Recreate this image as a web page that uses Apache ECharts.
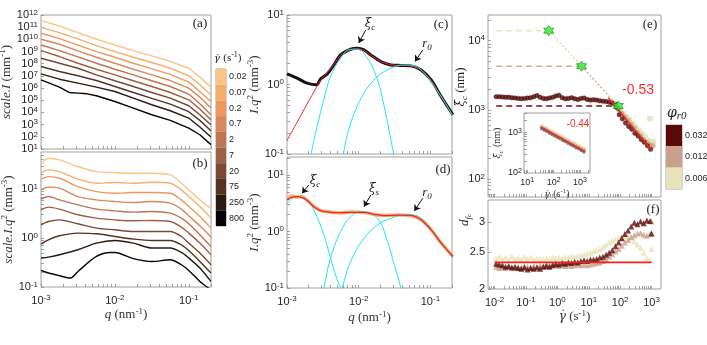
<!DOCTYPE html>
<html>
<head>
<meta charset="utf-8">
<script src="https://cdn.jsdelivr.net/npm/echarts@6/dist/echarts.min.js"></script>
<style>
  html, body { margin: 0; background: #fff; }
  #chart { width: 707px; height: 345px; }
</style>
</head>
<body>
<div id="chart"></div>
<script>
// all positions on log axes are stored as log10 values

// ---- shear-rate colour scale ----
const rateLabels = ['0.02', '0.07', '0.2', '0.7', '2', '7', '20', '75', '250', '800'];
const rateColors = ['#FBC585', '#F7AE6C', '#EF985E', '#D9875D', '#BD7553', '#9D6045', '#7A4832', '#553322', '#2B1A10', '#050505'];

// ---- (a) scale.I vs q ----
const qA = [-3, -2.75, -2.5, -2.25, -2, -1.75, -1.5, -1.25, -1, -0.85, -0.7];
const aCurves = [
  [11.54, 11.10, 10.55, 10.01, 9.54, 9.08, 8.64, 8.18, 7.63, 6.90, 6.08],
  [10.99, 10.55, 10.04, 9.49, 9.00, 8.53, 8.10, 7.63, 7.01, 6.27, 5.45],
  [10.50, 10.06, 9.52, 9.00, 8.53, 8.04, 7.58, 7.12, 6.49, 5.72, 4.90],
  [10.01, 9.60, 9.05, 8.53, 8.04, 7.55, 7.09, 6.62, 6.00, 5.26, 4.36],
  [9.54, 9.08, 8.56, 8.04, 7.55, 7.09, 6.60, 6.13, 5.51, 4.71, 3.81],
  [9.08, 8.59, 8.04, 7.55, 7.09, 6.60, 6.13, 5.64, 5.04, 4.28, 3.40],
  [8.45, 8.04, 7.63, 7.09, 6.60, 6.13, 5.64, 5.18, 4.55, 3.81, 2.99],
  [7.77, 7.36, 7.01, 6.62, 6.13, 5.64, 5.15, 4.69, 4.06, 3.35, 2.50],
  [7.17, 6.73, 6.41, 6.08, 5.72, 5.18, 4.63, 4.14, 3.54, 2.80, 1.98]
];
const qABlack = [-3, -2.75, -2.62, -2.5, -2.375, -2.25, -2, -1.75, -1.5, -1.25, -1, -0.85, -0.7];
const aBlack = [6.68, 6.08, 5.64, 5.59, 5.53, 5.37, 4.90, 4.36, 3.81, 3.35, 2.72, 2.17, 1.36];

// ---- (b) scale.I.q^2 vs q ----
const qB = [-3, -2.9, -2.75, -2.5, -2.25, -2, -1.75, -1.5, -1.25, -1.1, -1, -0.85, -0.7];
const bCurves = [
  [1.496, 1.633, 1.598, 1.461, 1.359, 1.339, 1.327, 1.327, 1.292, 1.122, 0.986, 0.782, 0.612],
  [1.327, 1.394, 1.359, 1.204, 1.122, 1.135, 1.122, 1.143, 1.122, 0.986, 0.849, 0.645, 0.408],
  [1.204, 1.257, 1.224, 1.053, 0.951, 0.918, 0.931, 0.931, 0.918, 0.782, 0.645, 0.441, 0.204],
  [0.986, 1.041, 1.020, 0.849, 0.782, 0.747, 0.727, 0.747, 0.714, 0.592, 0.455, 0.251, 0.020],
  [0.796, 0.849, 0.782, 0.680, 0.592, 0.557, 0.531, 0.543, 0.510, 0.408, 0.292, 0.067, -0.171],
  [0.578, 0.633, 0.592, 0.476, 0.408, 0.373, 0.353, 0.359, 0.339, 0.224, 0.102, -0.102, -0.341],
  [0.271, 0.339, 0.373, 0.292, 0.204, 0.169, 0.135, 0.135, 0.135, 0.033, -0.102, -0.306, -0.545],
  [-0.122, -0.035, 0.047, 0.102, 0.088, 0.033, -0.020, -0.049, -0.049, -0.137, -0.253, -0.478, -0.714],
  [-0.408, -0.388, -0.341, -0.239, -0.102, -0.049, -0.102, -0.204, -0.204, -0.294, -0.408, -0.612, -0.886]
];
const qBBlack = [-3, -2.9, -2.75, -2.6, -2.5, -2.25, -2.06, -2, -1.75, -1.5, -1.25, -1.1, -1, -0.85, -0.7];
const bBlack = [-0.661, -0.714, -0.769, -0.816, -0.682, -0.376, -0.294, -0.294, -0.42, -0.478, -0.443, -0.545, -0.661, -0.886, -1.055];

// ---- (c) single fit ----
const qC = [-3, -2.86, -2.72, -2.589, -2.533, -2.439, -2.346, -2.252, -2.112, -2.018, -1.926, -1.832, -1.691, -1.551, -1.411, -1.271, -1.13, -0.99, -0.85, -0.686];
const cData = [0.153, 0.091, 0.019, -0.005, 0.077, 0.153, 0.282, 0.426, 0.507, 0.522, 0.497, 0.426, 0.330, 0.282, 0.275, 0.268, 0.210, 0.067, -0.173, -0.436];
const cFit = [-0.805, -0.545, -0.28, -0.04, 0.06, 0.17, 0.29, 0.42, 0.50, 0.515, 0.49, 0.42, 0.33, 0.285, 0.275, 0.265, 0.205, 0.06, -0.18, -0.44];
const cPeak1X = [-2.70, -2.664, -2.58, -2.487, -2.393, -2.252, -2.112, -2.018, -1.878, -1.738, -1.645, -1.513, -1.48];
const cPeak1Y = [-1.2, -1.0, -0.604, -0.22, 0.114, 0.378, 0.507, 0.507, 0.378, 0.067, -0.316, -1.0, -1.2];
const cPeak2X = [-2.25, -2.215, -2.112, -1.926, -1.738, -1.551, -1.365, -1.224, -1.084, -0.944, -0.804, -0.686];
const cPeak2Y = [-1.2, -1.0, -0.555, -0.124, 0.114, 0.235, 0.282, 0.268, 0.163, -0.029, -0.245, -0.46];
const cArrows = [[[-1.902, 0.785], [-2.0, 0.598]], [[-1.107, 0.497], [-1.215, 0.330]]];

// ---- (d) three-peak fit ----
const qD = [-3, -2.93, -2.86, -2.79, -2.72, -2.626, -2.533, -2.393, -2.252, -2.112, -1.926, -1.785, -1.645, -1.458, -1.271, -1.13, -0.99, -0.85, -0.686];
const dData = [0.58, 0.63, 0.61, 0.62, 0.56, 0.45, 0.37, 0.345, 0.33, 0.345, 0.335, 0.30, 0.285, 0.295, 0.28, 0.21, 0.035, -0.20, -0.44];
const dFit = [0.56, 0.61, 0.62, 0.60, 0.55, 0.44, 0.37, 0.34, 0.335, 0.34, 0.34, 0.305, 0.28, 0.29, 0.285, 0.206, 0.029, -0.206, -0.442];
const dPeak1X = [-3, -2.86, -2.743, -2.626, -2.486, -2.393, -2.309, -2.252, -2.22];
const dPeak1Y = [0.50, 0.617, 0.589, 0.382, -0.059, -0.47, -0.823, -1.0, -1.2];
const dPeak2X = [-2.52, -2.486, -2.393, -2.252, -2.112, -1.949, -1.738, -1.598, -1.505, -1.411, -1.38];
const dPeak2Y = [-1.2, -1.0, -0.47, 0.0, 0.265, 0.353, 0.235, -0.177, -0.589, -1.0, -1.2];
const dPeak3X = [-2.26, -2.229, -2.112, -1.926, -1.738, -1.551, -1.365, -1.224, -1.084, -0.944, -0.804, -0.686];
const dPeak3Y = [-1.2, -1.0, -0.53, -0.118, 0.117, 0.235, 0.294, 0.29, 0.176, -0.029, -0.265, -0.47];
const dArrows = [[[-2.697, 0.823], [-2.790, 0.677]], [[-1.832, 0.647], [-1.926, 0.440]], [[-1.107, 0.589], [-1.224, 0.365]]];

// ---- (e) xi_c vs shear rate ----
const phiLabels = ['0.032', '0.012', '0.006'];
const phiColors = ['#5A0A0A', '#C9A08C', '#E8E3B8'];
const eDarkX = [-1.95, -1.85, -1.75, -1.65, -1.55, -1.45, -1.35, -1.25, -1.15, -1.05, -0.95, -0.85, -0.75, -0.65, -0.55, -0.45, -0.35, -0.25, -0.15, -0.05,
  0.05, 0.15, 0.25, 0.35, 0.45, 0.55, 0.65, 0.75, 0.85, 0.95, 1.05, 1.15, 1.25, 1.35, 1.45, 1.55, 1.65, 1.75, 1.85,
  1.9, 1.97, 2.07, 2.17, 2.27, 2.37, 2.47, 2.57, 2.67, 2.77, 2.87, 2.97];
const eDarkY = [3.19, 3.19, 3.185, 3.18, 3.18, 3.175, 3.17, 3.165, 3.16, 3.165, 3.17, 3.175, 3.19, 3.205, 3.18, 3.165, 3.16, 3.17, 3.18, 3.2,
  3.21, 3.175, 3.16, 3.165, 3.175, 3.16, 3.15, 3.165, 3.17, 3.15, 3.14, 3.145, 3.14, 3.13, 3.125, 3.12, 3.11, 3.1, 3.08,
  3.03, 2.93, 2.87, 2.81, 2.76, 2.72, 2.66, 2.62, 2.57, 2.53, 2.48, 2.43];
const eTanX = [1.85, 1.95, 2.05, 2.15, 2.25, 2.35, 2.45, 2.55, 2.65, 2.75, 2.85, 2.95, 3.05];
const eTanY = [3.05, 3.0, 2.95, 2.9, 2.85, 2.79, 2.74, 2.68, 2.63, 2.57, 2.53, 2.5, 2.48];
const ePaleX = [1.9, 2.0, 2.1, 2.2, 2.3, 2.4, 2.5, 2.6, 2.7, 2.8, 2.9, 3.0, 3.05, 2.95];
const ePaleY = [3.04, 3.0, 2.95, 2.9, 2.86, 2.8, 2.75, 2.7, 2.65, 2.6, 2.56, 2.53, 2.54, 2.87];
const eStarX = [-0.275, 0.77, 1.937];
const eStarY = [4.144, 3.63, 3.055];
const ePlateauStart = -1.95;
const ePlateauEnd = [-0.275, 0.77, 1.75];
const eFitX = [1.62, 3.006];
const eFitY = [3.174, 2.417];

// ---- (e) inset ----
const insX = [1.55, 1.65, 1.75, 1.85, 1.95, 2.05, 2.15, 2.25, 2.35, 2.45, 2.55, 2.65, 2.75, 2.85, 2.95, 3.05, 3.15];
const insDarkY = [3.10, 3.06, 3.03, 2.99, 2.95, 2.92, 2.88, 2.85, 2.81, 2.78, 2.74, 2.70, 2.67, 2.63, 2.60, 2.56, 2.52];
const insTanY = [3.13, 3.10, 3.06, 3.02, 2.99, 2.95, 2.92, 2.88, 2.85, 2.81, 2.78, 2.74, 2.71, 2.67, 2.64, 2.60, 2.57];
const insPaleY = [3.16, 3.12, 3.09, 3.05, 3.02, 2.98, 2.95, 2.91, 2.88, 2.84, 2.81, 2.77, 2.74, 2.70, 2.67, 2.63, 2.60];
const insFitX = [1.51, 3.19];
const insFitY = [3.148, 2.532];

// ---- (f) d_fc vs shear rate (plain values, log axis) ----
const fX = [-1.95, -1.85, -1.75, -1.65, -1.55, -1.45, -1.35, -1.25, -1.15, -1.05, -0.95, -0.85, -0.75, -0.65, -0.55, -0.45, -0.35, -0.25, -0.15, -0.05,
  0.05, 0.15, 0.25, 0.35, 0.45, 0.55, 0.65, 0.75, 0.85, 0.95, 1.05, 1.15, 1.25, 1.35, 1.45, 1.55, 1.65, 1.75, 1.85, 1.95,
  2.05, 2.15, 2.25, 2.35, 2.45, 2.55, 2.65, 2.75, 2.85, 2.95, 3.0];
const fDark = [2.33, 2.32, 2.31, 2.29, 2.30, 2.28, 2.29, 2.27, 2.26, 2.28, 2.25, 2.27, 2.26, 2.28, 2.26, 2.29, 2.30, 2.29, 2.31, 2.33,
  2.32, 2.34, 2.33, 2.35, 2.34, 2.36, 2.35, 2.37, 2.38, 2.37, 2.39, 2.39, 2.40, 2.42, 2.43, 2.46, 2.49, 2.53, 2.59, 2.65,
  2.72, 2.79, 2.85, 2.92, 2.99, 2.96, 3.01, 2.98, 3.03, 3.02, 2.80];
const fTan = [2.29, 2.27, 2.28, 2.27, 2.29, 2.28, 2.27, 2.29, 2.28, 2.30, 2.29, 2.28, 2.30, 2.29, 2.31, 2.30, 2.32, 2.31, 2.32, 2.31,
  2.30, 2.31, 2.30, 2.31, 2.30, 2.31, 2.32, 2.31, 2.32, 2.31, 2.32, 2.33, 2.34, 2.35, 2.37, 2.40, 2.43, 2.47, 2.51, 2.55,
  2.60, 2.65, 2.69, 2.74, 2.77, 2.80, 2.81, 2.78, 2.76, 2.79, 3.01];
const fPale = [2.41, 2.43, 2.40, 2.42, 2.39, 2.44, 2.40, 2.42, 2.39, 2.43, 2.40, 2.42, 2.39, 2.41, 2.40, 2.39, 2.41, 2.40, 2.42, 2.41,
  2.42, 2.41, 2.43, 2.42, 2.44, 2.43, 2.45, 2.46, 2.47, 2.48, 2.49, 2.51, 2.53, 2.55, 2.58, 2.62, 2.65, 2.68, 2.70, 2.72,
  2.74, 2.75, 2.75, 2.72, 2.67, 2.62, 2.57, 2.49, 2.41, 2.38, 2.55];
const fFitX = [-2, 3.0];
const fFitY = [2.35, 2.35];
const fTicks = [2, 2.5, 3];

// ── styling ──
const SANS = '"Liberation Sans", Arial, sans-serif';
const SERIF = '"Liberation Serif", "Times New Roman", serif';
const GREEK = '"DejaVu Serif", serif';
const INK = '#262626';
const CYAN = '#1EE6F0';
const RED = '#F2241C';

const tickRich = {
  b: { fontFamily: SANS, fontSize: 11, color: INK, lineHeight: 13 },
  s: { fontFamily: SANS, fontSize: 8, color: INK, lineHeight: 8, verticalAlign: 'top' }
};
const smallRich = {
  b: { fontFamily: SANS, fontSize: 9, color: INK, lineHeight: 11 },
  s: { fontFamily: SANS, fontSize: 7, color: INK, lineHeight: 7, verticalAlign: 'top' }
};
function mkNameRich(size) {
  const sm = Math.round(size * 0.7);
  return {
    i: { fontFamily: SERIF, fontStyle: 'italic', fontSize: size, color: '#333', lineHeight: size + 3 },
    g: { fontFamily: GREEK, fontStyle: 'italic', fontSize: size - 1, color: '#333', lineHeight: size + 3 },
    n: { fontFamily: SERIF, fontSize: size, color: '#333', lineHeight: size + 3 },
    s: { fontFamily: SERIF, fontSize: sm, color: '#333', lineHeight: sm, verticalAlign: 'top' },
    u: { fontFamily: SERIF, fontStyle: 'italic', fontSize: sm, color: '#333', lineHeight: sm, verticalAlign: 'bottom' },
    uu: { fontFamily: SERIF, fontStyle: 'italic', fontSize: sm - 2, color: '#333', lineHeight: sm - 4, verticalAlign: 'bottom' }
  };
}
const nameRich = mkNameRich(13);
const pow10 = v => '{b|10}{s|' + Math.round(v) + '}';

function logTicks(min, max) {
  const out = [];
  for (let k = Math.floor(min); k <= Math.ceil(max); k++) {
    for (let m = 1; m < 10; m++) {
      const v = k + Math.log10(m);
      if (v >= min - 1e-9 && v <= max + 1e-9) out.push(v);
    }
  }
  return out;
}

function axis(grid, min, max, labels, o) {
  o = o || {};
  return {
    type: 'value', gridIndex: grid, min: min, max: max,
    axisLine: { show: false, onZero: false }, splitLine: { show: false },
    axisTick: { show: true, inside: true, length: 3, lineStyle: { color: '#8a8a8a', width: 0.8 },
      customValues: o.ticks || logTicks(min, max) },
    axisLabel: { show: !!labels, customValues: labels || [], formatter: o.fmt || pow10,
      rich: o.rich || tickRich, margin: o.margin == null ? 3 : o.margin,
      fontFamily: SANS, fontSize: 11, color: INK },
    name: o.name || '', nameLocation: 'middle', nameGap: o.gap || 20, nameRotate: o.rotate || 0,
    nameTextStyle: { rich: o.nameRich || nameRich }
  };
}

const grids = [
  { left: 41, top: 15, width: 170, height: 134 },   // 0 (a)
  { left: 41, top: 152, width: 170, height: 135 },  // 1 (b)
  { left: 216, top: 69, width: 10, height: 157 },   // 2 rate colour bar
  { left: 287, top: 15, width: 165, height: 139 },  // 3 (c)
  { left: 287, top: 157, width: 165, height: 131 }, // 4 (d)
  { left: 488, top: 15, width: 173, height: 182 },  // 5 (e)
  { left: 524, top: 113, width: 66, height: 60, backgroundColor: '#fff' }, // 6 inset
  { left: 488, top: 200, width: 173, height: 89 },  // 7 (f)
  { left: 666, top: 125, width: 16, height: 64 }    // 8 phi colour bar
].map(g => Object.assign({ show: true, borderColor: '#a0a0a0', borderWidth: 1, backgroundColor: 'transparent',
  containLabel: false, outerBoundsMode: 'none' }, g));

const qName = '{i|q} {n|(nm}{s|-1}{n|)}';
const rateName = '{g|γ̇} {n|(s}{s|-1}{n|)}';
const iqName = '{i|I.q}{s|2} {n|(mm}{s|-3}{n|)}';
const lg = v => Math.log10(v);

const xAxis = [
  axis(0, -3, lg(0.2), null),
  axis(1, -3, lg(0.2), [-3, -2, -1], { name: qName, gap: 20, margin: 7 }),
  { type: 'value', gridIndex: 2, min: 0, max: 1, show: false },
  axis(3, -3, lg(0.2), null),
  axis(4, -3, lg(0.2), [-3, -2, -1], { name: qName, gap: 22, margin: 7 }),
  axis(5, -2.21, 3.3, null),
  axis(6, 0.875, 3.38, [1, 2, 3], { rich: smallRich, name: rateName, gap: 12, margin: 4, nameRich: mkNameRich(10) }),
  axis(7, -2.21, 3.3, [-2, -1, 0, 1, 2, 3], { name: rateName, gap: 20, margin: 7 }),
  { type: 'value', gridIndex: 8, min: 0, max: 1, show: false }
];
const cbAxis = (grid, labels) => ({
  type: 'category', gridIndex: grid, data: labels, inverse: true, position: 'right',
  axisLine: { show: false }, axisTick: { show: false }, splitLine: { show: false },
  axisLabel: { fontFamily: SANS, fontSize: 9, color: INK, margin: 3 }
});
const yAxis = [
  axis(0, 1, 12, [1, 2, 3, 4, 5, 6, 7, 8, 9, 10, 11, 12],
    { ticks: [1, 2, 3, 4, 5, 6, 7, 8, 9, 10, 11, 12], name: '{i|scale.I} {n|(mm}{s|-1}{n|)}', gap: 22, rotate: 90 }),
  axis(1, -1, 1.76, [-1, 0, 1], { name: '{i|scale.I.q}{s|2} {n|(mm}{s|-3}{n|)}', gap: 23, rotate: 90 }),
  cbAxis(2, rateLabels),
  axis(3, -1, 1, [-1, 0, 1], { name: iqName, gap: 19, rotate: 90 }),
  axis(4, -1, 1.32, [-1, 0, 1], { name: iqName, gap: 18, rotate: 90 }),
  axis(5, 1.74, 4.37, [2, 3, 4]),
  axis(6, 2, 3.49, [2, 3], { rich: smallRich, name: '{g|ξ}{u|c} {n|(nm)}', gap: 14, rotate: 90, margin: 2, nameRich: mkNameRich(10) }),
  axis(7, lg(2), lg(3.43), fTicks.map(lg), { ticks: fTicks.map(lg), fmt: v => String(Math.round(Math.pow(10, v) * 10) / 10) }),
  cbAxis(8, phiLabels)
];

// ── series helpers ──
const pts = (xs, ys) => xs.map((x, i) => [x, ys[i]]);
function line(g, xs, ys, style) {
  return Object.assign({ type: 'line', xAxisIndex: g, yAxisIndex: g, data: pts(xs, ys),
    symbol: 'none', silent: true, clip: true }, style);
}
function dots(g, xs, ys, style) {
  return Object.assign({ type: 'scatter', xAxisIndex: g, yAxisIndex: g, data: pts(xs, ys),
    silent: true, clip: true }, style);
}
const arrowLines = list => ({
  silent: true, symbol: ['none', 'arrow'], symbolSize: 6,
  lineStyle: { color: '#111', width: 1, type: 'solid' }, label: { show: false },
  data: list.map(a => [{ coord: a[0] }, { coord: a[1] }])
});
const STAR = 'path://M0,-100L28.9,-50L86.6,-50L57.7,0L86.6,50L28.9,50L0,100L-28.9,50L-86.6,50L-57.7,0L-86.6,-50L-28.9,-50Z';

const series = [];
// (a) and (b)
aCurves.forEach((ys, i) => series.push(line(0, qA, ys, { lineStyle: { color: rateColors[i], width: 1.4 } })));
series.push(line(0, qABlack, aBlack, { lineStyle: { color: rateColors[9], width: 1.4 } }));
bCurves.forEach((ys, i) => series.push(line(1, qB, ys, { smooth: 0.3, lineStyle: { color: rateColors[i], width: 1.4 } })));
series.push(line(1, qBBlack, bBlack, { smooth: 0.3, lineStyle: { color: rateColors[9], width: 1.4 } }));
// rate colour bar
series.push({ type: 'bar', xAxisIndex: 2, yAxisIndex: 2, silent: true, barWidth: '100%',
  data: rateColors.map(c => ({ value: 1, itemStyle: { color: c } })) });
// (c)
series.push(line(3, qC, cData, { smooth: 0.3, lineStyle: { color: '#111', width: 3 } }));
series.push(line(3, qC, cFit, { smooth: 0.3, lineStyle: { color: RED, width: 1 } }));
series.push(line(3, cPeak1X, cPeak1Y, { smooth: 0.4, lineStyle: { color: CYAN, width: 1 } }));
series.push(line(3, cPeak2X, cPeak2Y, { smooth: 0.4, lineStyle: { color: CYAN, width: 1 }, markLine: arrowLines(cArrows) }));
// (d)
series.push(line(4, qD, dData, { smooth: 0.3, lineStyle: { color: '#F7B27C', width: 3.5 } }));
series.push(line(4, dPeak1X, dPeak1Y, { smooth: 0.4, lineStyle: { color: CYAN, width: 1 } }));
series.push(line(4, dPeak2X, dPeak2Y, { smooth: 0.4, lineStyle: { color: CYAN, width: 1 } }));
series.push(line(4, dPeak3X, dPeak3Y, { smooth: 0.4, lineStyle: { color: CYAN, width: 1 } }));
series.push(line(4, qD, dFit, { smooth: 0.3, lineStyle: { color: RED, width: 1.3 }, markLine: arrowLines(dArrows) }));
// (e)
const dashColors = [phiColors[2], '#D2AE98', '#6A1515'];
eStarY.forEach((y, i) => series.push(line(5, [ePlateauStart, ePlateauEnd[i]], [y, y],
  { lineStyle: { color: dashColors[i], width: 1.5, type: [6, 4] } })));
series.push(line(5, eStarX.slice(0, 2), eStarY.slice(0, 2), { lineStyle: { color: '#E0D8A6', width: 1.3, type: [2, 2] } }));
series.push(line(5, eStarX.slice(1), eStarY.slice(1), { lineStyle: { color: '#CDA48E', width: 1.3, type: [2, 2] } }));
series.push(dots(5, ePaleX, ePaleY, { symbolSize: 6, itemStyle: { color: phiColors[2], opacity: 0.9 } }));
series.push(dots(5, eTanX, eTanY, { symbolSize: 5, itemStyle: { color: phiColors[1] } }));
series.push(dots(5, eDarkX, eDarkY, { symbolSize: 4.5, itemStyle: { color: phiColors[0], borderColor: '#3a0000', borderWidth: 0.5 } }));
series.push(line(5, eFitX, eFitY, { lineStyle: { color: RED, width: 1.5 } }));
series.push(dots(5, eStarX, eStarY, { symbol: STAR, symbolSize: 10, z: 5,
  itemStyle: { color: '#2CF02C', borderColor: '#157A15', borderWidth: 0.8 } }));
// inset
series.push(dots(6, insX, insPaleY, { symbolSize: 5, itemStyle: { color: phiColors[2] } }));
series.push(dots(6, insX, insTanY, { symbolSize: 4, itemStyle: { color: phiColors[1] } }));
series.push(dots(6, insX, insDarkY, { symbolSize: 3.5, itemStyle: { color: '#6E5A5A' } }));
series.push(line(6, insFitX, insFitY, { lineStyle: { color: RED, width: 1.3 } }));
// (f)
series.push(dots(7, fX, fPale.map(lg), { symbol: 'triangle', symbolSize: 6, itemStyle: { color: phiColors[2] } }));
series.push(dots(7, fX, fTan.map(lg), { symbol: 'triangle', symbolSize: 6, itemStyle: { color: phiColors[1] } }));
series.push(dots(7, fX, fDark.map(lg), { symbol: 'triangle', symbolSize: 6, itemStyle: { color: '#5A0A0A' } }));
series.push(line(7, fFitX, fFitY.map(lg), { z: 4, lineStyle: { color: RED, width: 1.8 } }));
// phi colour bar
series.push({ type: 'bar', xAxisIndex: 8, yAxisIndex: 8, silent: true, barWidth: '100%',
  data: phiColors.map(c => ({ value: 1, itemStyle: { color: c } })) });

// ── annotations ──
function txt(x, y, text, o) {
  o = o || {};
  return { type: 'text', x: x, y: y, rotation: o.rot || 0, z: 10, silent: true,
    style: { text: text, rich: o.rich || nameRich, fill: o.color || '#222',
      font: o.font || ('13px ' + SERIF), align: o.align || 'center', verticalAlign: 'middle' } };
}
const graphic = [
  txt(200, 24, '(a)'), txt(200, 164, '(b)'), txt(441, 25, '(c)'), txt(443, 170, '(d)'),
  txt(650, 25, '(e)'), txt(653, 210, '(f)'),
  txt(214, 58, rateName, { align: 'left', rich: mkNameRich(11) }),
  txt(667, 113, '{g|φ}{u|r0}', { align: 'left', rich: mkNameRich(15) }),
  txt(370, 24, '{g|ξ}{u|c}'), txt(427, 44, '{i|r}{u|0}'),
  txt(315, 181, '{g|ξ}{u|c}'), txt(374, 189, '{g|ξ}{u|s}'), txt(427, 193, '{i|r}{u|0}'),
  txt(461, 87, '{g|ξ}{u|c} {n|(nm)}', { rot: Math.PI / 2 }),
  txt(465, 220, '{i|d}{u|f}{uu|c}', { rot: Math.PI / 2 }),
  txt(638, 90, '-0.53', { font: '14px ' + SANS, color: '#FF2A2A', rich: {} }),
  txt(578, 124, '-0.44', { font: '10px ' + SANS, color: '#FF2A2A', rich: {} })
];

const chart = echarts.init(document.getElementById('chart'));
chart.setOption({
  animation: false,
  backgroundColor: '#fff',
  grid: grids,
  xAxis: xAxis,
  yAxis: yAxis,
  series: series,
  graphic: graphic
});
</script>
</body>
</html>
